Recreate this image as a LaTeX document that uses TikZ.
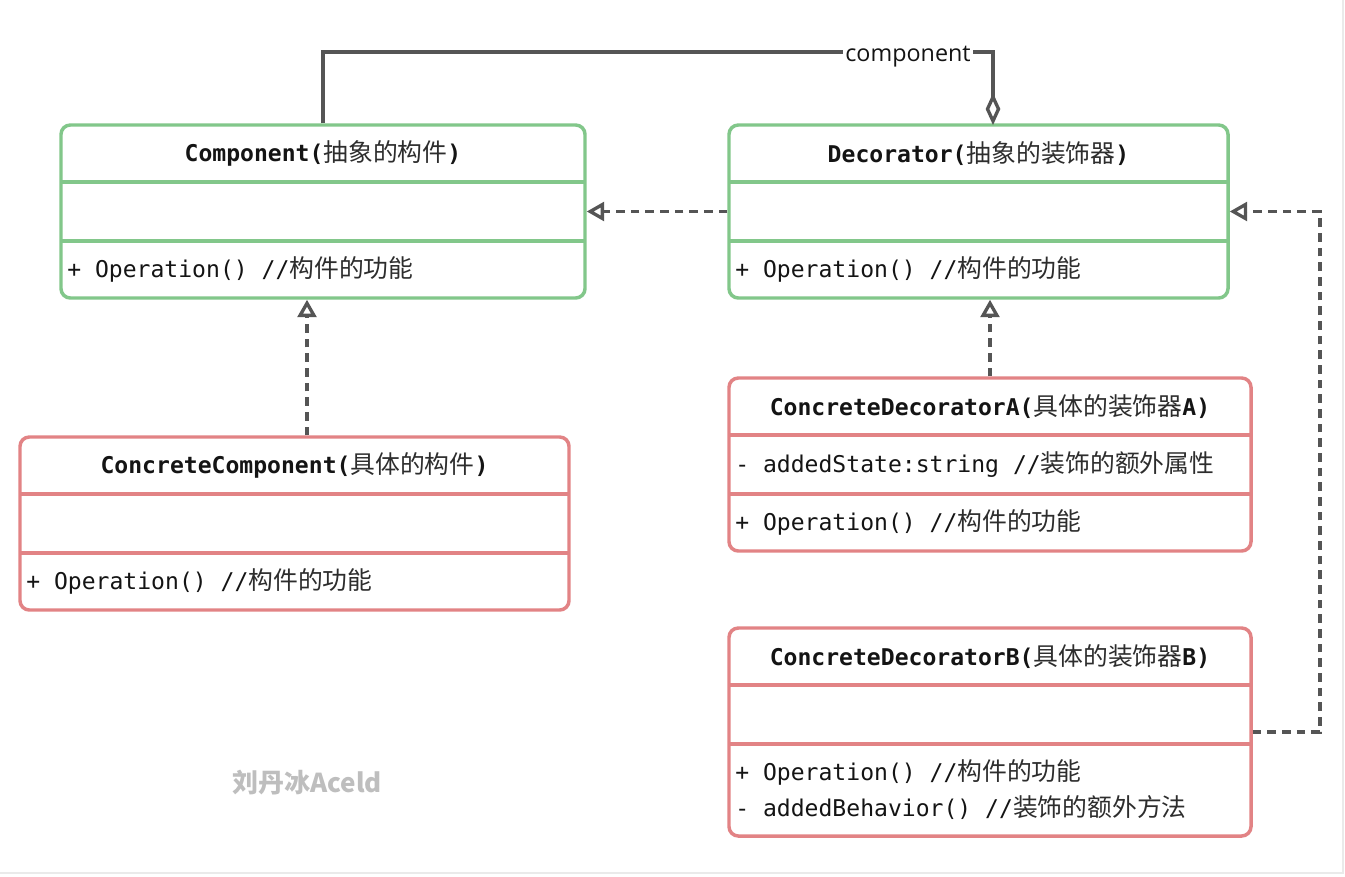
\documentclass[tikz,border=0pt]{standalone}
\usepackage{fontspec}
\setmainfont{Open Sans}
\newfontfamily\monof{DejaVu Sans Mono}
\newfontfamily\cjkf{Noto Sans CJK SC}
\usetikzlibrary{arrows.meta,fit}
\definecolor{gline}{RGB}{130,199,138}
\definecolor{rline}{RGB}{226,131,133}
\definecolor{connc}{RGB}{85,85,85}
\definecolor{txt}{RGB}{20,20,20}
\definecolor{ctxt}{RGB}{45,45,45}
\definecolor{wmc}{RGB}{190,190,190}
\definecolor{edgec}{RGB}{234,234,234}
\newcommand\MT[1]{{\monof\fontsize{17.3pt}{20pt}\selectfont\color{txt}#1}}
\newcommand\MB[1]{{\monof\bfseries\fontsize{17.3pt}{20pt}\selectfont\color{txt}#1}}
\newcommand\CT[1]{{\cjkf\fontsize{18.6pt}{20pt}\selectfont\color{ctxt}#1}}
\begin{document}
\begin{tikzpicture}[x=0.75pt,y=-0.75pt,
  classbox/.style={line width=2.6pt,rounded corners=7pt,inner sep=0pt},
  gbox/.style={classbox,draw=gline},
  rbox/.style={classbox,draw=rline},
  gdiv/.style={line width=2.6pt,draw=gline},
  rdiv/.style={line width=2.6pt,draw=rline},
  classtitle/.style={inner sep=0pt,anchor=center},
  member/.style={inner sep=0pt,anchor=west},
  conn/.style={draw=connc,line width=2.8pt},
  realize/.style={conn,dash pattern=on 6.5pt off 4.5pt,-{Triangle[open,length=13pt,width=14pt,line width=2.5pt]}},
  aggreg/.style={conn,-{Diamond[open,length=24pt,width=11pt,line width=2.5pt]}},
]
\useasboundingbox (0,0) rectangle (1345,876);
\fill[white] (0,0) rectangle (1345,876);
\draw[edgec,line width=1.2pt] (1343,0) -- (1343,873) -- (0,873);

% Component
\node[gbox, fit={(61,125)(585,298)}] (comp) {};
\draw[gdiv] (61,182) -- (585,182);
\draw[gdiv] (61,241) -- (585,241);
\node[classtitle] (compt) at (323,153.5) {\MB{Component(}\CT{抽象的构件}\MB{)}};
\node[member] (compo) at (67,269.5) {\MT{+ Operation() //}\CT{构件的功能}};

% Decorator
\node[gbox, fit={(729,125)(1228,298)}] (dec) {};
\draw[gdiv] (729,182) -- (1228,182);
\draw[gdiv] (729,241) -- (1228,241);
\node[classtitle] (dect) at (978.5,153.5) {\MB{Decorator(}\CT{抽象的装饰器}\MB{)}};
\node[member] (deco) at (735,269.5) {\MT{+ Operation() //}\CT{构件的功能}};

% ConcreteComponent
\node[rbox, fit={(20,437)(569,610)}] (cc) {};
\draw[rdiv] (20,494) -- (569,494);
\draw[rdiv] (20,553) -- (569,553);
\node[classtitle] (cct) at (294.5,465.5) {\MB{ConcreteComponent(}\CT{具体的构件}\MB{)}};
\node[member] (cco) at (26,581.5) {\MT{+ Operation() //}\CT{构件的功能}};

% ConcreteDecoratorA
\node[rbox, fit={(729,378)(1251,551)}] (cda) {};
\draw[rdiv] (729,435) -- (1251,435);
\draw[rdiv] (729,494) -- (1251,494);
\node[classtitle] (cdat) at (990,406.5) {\MB{ConcreteDecoratorA(}\CT{具体的装饰器}\MB{A)}};
\node[member] (cdas) at (735,464.5) {\MT{- addedState:string //}\CT{装饰的额外属性}};
\node[member] (cdao) at (735,522.5) {\MT{+ Operation() //}\CT{构件的功能}};

% ConcreteDecoratorB
\node[rbox, fit={(729,628)(1251,836)}] (cdb) {};
\draw[rdiv] (729,685) -- (1251,685);
\draw[rdiv] (729,744) -- (1251,744);
\node[classtitle] (cdbt) at (990,656.5) {\MB{ConcreteDecoratorB(}\CT{具体的装饰器}\MB{B)}};
\node[member] (cdbo) at (735,772) {\MT{+ Operation() //}\CT{构件的功能}};
\node[member] (cdbb) at (735,808) {\MT{- addedBehavior() //}\CT{装饰的额外方法}};

% connectors
\coordinate (ccx) at (307,0);
\coordinate (aggend) at (993,125);
\draw[aggreg] (comp.north) -- ++(0,-71) -| (aggend);
\node[fill=white, inner sep=1.5pt, font=\fontsize{17.5pt}{20pt}\selectfont, text=txt] (agglbl) at (908,57) {component};
\draw[realize] (dec.west) -- (comp.east);
\draw[realize] (cc.north -| ccx) -- (comp.south -| ccx);
\draw[realize] (cda.north) -- (cda.north |- dec.south);
\draw[realize] (cdb.east) -- ++(67,0) |- (dec.east);

% watermark
\node[text=wmc, font=\cjkf\bfseries\fontsize{19.5pt}{22pt}\selectfont] (wm) at (307,783) {刘丹冰Aceld};
\end{tikzpicture}
\end{document}
